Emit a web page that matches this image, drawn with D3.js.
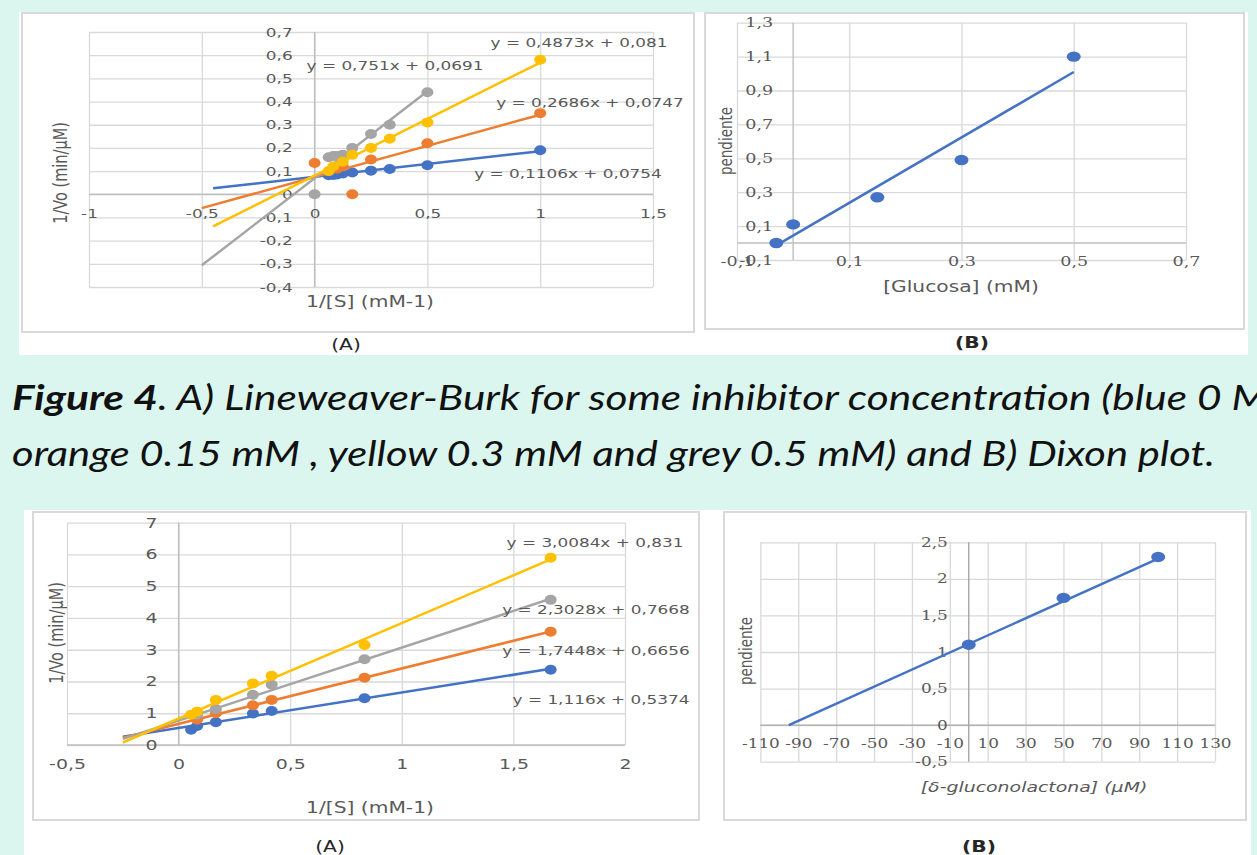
<!DOCTYPE html>
<html>
<head>
<meta charset="utf-8">
<script src="https://cdn.jsdelivr.net/npm/d3@7"></script>
<style>
  body { margin: 0; background: #dbf6ef; }
  svg { display: block; }
</style>
</head>
<body>
<svg id="fig" width="1257" height="855"></svg>
<script>
// ---- data: top (A) Lineweaver-Burk, glucose ----
const topBlueX = [0.0625, 0.083, 0.1, 0.125, 0.167, 0.25, 0.333, 0.5, 1];
const topBlueY = [0.082, 0.083, 0.085, 0.09, 0.094, 0.102, 0.109, 0.125, 0.19];
const topOrangeX = [0, 0.1, 0.125, 0.167, 0.25, 0.5, 1];
const topOrangeY = [0.135, 0.11, 0.12, 0, 0.15, 0.22, 0.35];
const topGreyX = [0, 0.0625, 0.083, 0.1, 0.125, 0.167, 0.25, 0.333, 0.5];
const topGreyY = [0, 0.16, 0.165, 0.165, 0.17, 0.2, 0.26, 0.3, 0.44];
const topYellowX = [0.0625, 0.083, 0.125, 0.167, 0.25, 0.333, 0.5, 1];
const topYellowY = [0.1, 0.12, 0.14, 0.17, 0.2, 0.24, 0.31, 0.58];
// trendlines in order blue, orange, grey, yellow
const topSlope = [0.1106, 0.2686, 0.751, 0.4873];
const topIntercept = [0.0754, 0.0747, 0.0691, 0.081];
const topTrendFrom = [-0.45, -0.5, -0.5, -0.45];
const topTrendTo = [1, 1, 0.5, 1];
const topEquations = ["y = 0,1106x + 0,0754", "y = 0,2686x + 0,0747", "y = 0,751x + 0,0691", "y = 0,4873x + 0,081"];
const topXTicks = [-1, -0.5, 0, 0.5, 1, 1.5];
const topYTicks = [-0.4, -0.3, -0.2, -0.1, 0, 0.1, 0.2, 0.3, 0.4, 0.5, 0.6, 0.7];

// ---- data: top (B) Dixon, glucose ----
const glucosa = [-0.03, 0, 0.15, 0.3, 0.5];
const glucosaPendiente = [0, 0.11, 0.27, 0.49, 1.1];
const glucosaTrend = [1.93, 0.044]; // slope, intercept
const glucosaTrendRange = [-0.023, 0.5];
const glucXTicks = [-0.1, 0.1, 0.3, 0.5, 0.7];
const glucYTicks = [-0.1, 0.1, 0.3, 0.5, 0.7, 0.9, 1.1, 1.3];

// ---- data: bottom (A) Lineweaver-Burk, gluconolactone ----
const botBlueX = [0.056, 0.083, 0.167, 0.333, 0.417, 0.833, 1.667];
const botBlueY = [0.48, 0.6, 0.72, 0.99, 1.07, 1.47, 2.37];
const botOrangeX = [0.083, 0.167, 0.333, 0.417, 0.833, 1.667];
const botOrangeY = [0.8, 1.0, 1.25, 1.42, 2.12, 3.57];
const botGreyX = [0.083, 0.167, 0.333, 0.417, 0.833, 1.667];
const botGreyY = [0.95, 1.13, 1.58, 1.9, 2.7, 4.57];
const botYellowX = [0.056, 0.083, 0.167, 0.333, 0.417, 0.833, 1.667];
const botYellowY = [0.95, 1.05, 1.42, 1.94, 2.18, 3.15, 5.9];
const botSlope = [1.116, 1.7448, 2.3028, 3.0084];
const botIntercept = [0.5374, 0.6656, 0.7668, 0.831];
const botTrendRange = [-0.25, 1.667];
const botEquations = ["y = 1,116x + 0,5374", "y = 1,7448x + 0,6656", "y = 2,3028x + 0,7668", "y = 3,0084x + 0,831"];
const botXTicks = [-0.5, 0, 0.5, 1, 1.5, 2];
const botYTicks = [0, 1, 2, 3, 4, 5, 6, 7];

// ---- data: bottom (B) Dixon, gluconolactone ----
const lactona = [0, 50, 100];
const lactonaPendiente = [1.1, 1.74, 2.3];
const lactonaTrend = [0.01168, 1.11];
const lactonaTrendRange = [-95, 100];
const lactXTicks = [-110, -90, -70, -50, -30, -10, 10, 30, 50, 70, 90, 110, 130];
const lactYTicks = [-0.5, 0, 0.5, 1, 1.5, 2, 2.5];

const captionLine1 = ["Figure 4", ". A) Lineweaver-Burk for some inhibitor concentration (blue 0 M"];
const captionLine2 = "orange 0.15 mM , yellow 0.3 mM and grey 0.5 mM) and B) Dixon plot.";

// ---- setup ----
const colors = ["#4472c4", "#ed7d31", "#a5a5a5", "#ffc000"];
const SX = 1.35; // the picture is stretched sideways, text too
const svg = d3.select("#fig");
const loc = d3.formatLocale({ decimal: ",", thousands: ".", grouping: [3], currency: ["", ""], minus: "-" });
const fmt = loc.format("~g");

function txt(g, x, y, s, o = {}) {
  const t = g.append("text")
    .attr("transform", `translate(${x},${y})` + (o.rot ? ` rotate(-90) scale(1,${SX})` : ` scale(${SX},1)`))
    .attr("text-anchor", o.anchor || "middle")
    .attr("dominant-baseline", "central")
    .style("font-family", o.family || "DejaVu Sans")
    .style("font-size", (o.size || 13) + "px")
    .style("fill", o.color || "#595959")
    .text(s);
  if (o.italic) t.style("font-style", "italic");
  if (o.bold) t.style("font-weight", "bold");
  return t;
}

// panels
svg.append("rect").attr("x", 19).attr("y", 12).attr("width", 1229).attr("height", 343).attr("fill", "#fff");
svg.append("rect").attr("x", 24).attr("y", 510).attr("width", 1227).attr("height", 345).attr("fill", "#fff");
[[22, 13, 672, 319], [705, 13, 539, 316], [33, 512, 666, 308], [724, 512, 522, 308]].forEach(f => {
  svg.append("rect").attr("x", f[0]).attr("y", f[1]).attr("width", f[2]).attr("height", f[3])
    .attr("fill", "none").attr("stroke", "#d9d9d9").attr("stroke-width", 2);
});

function chart(o) {
  const g = svg.append("g");
  const x = d3.scaleLinear().domain(o.xDom).range(o.xRange);
  const y = d3.scaleLinear().domain(o.yDom).range(o.yRange);
  const h = o.yRange[0] - o.yRange[1], w = o.xRange[1] - o.xRange[0];

  // gridlines
  const gx = g.append("g").attr("transform", `translate(0,${o.yRange[0]})`)
    .call(d3.axisBottom(x).tickValues(o.xTicks).tickSize(-h).tickFormat(""));
  const gy = g.append("g").attr("transform", `translate(${o.xRange[0]},0)`)
    .call(d3.axisLeft(y).tickValues(o.yTicks).tickSize(-w).tickFormat(""));
  [gx, gy].forEach(a => {
    a.select(".domain").remove();
    a.selectAll("line").attr("stroke", "#d9d9d9").attr("stroke-width", 1.3);
  });

  // axis lines through zero
  g.append("line").attr("x1", x(0)).attr("x2", x(0)).attr("y1", o.yRange[0]).attr("y2", o.yRange[1])
    .attr("stroke", o.axisColor || "#bfbfbf").attr("stroke-width", 1.4);
  g.append("line").attr("x1", o.xRange[0]).attr("x2", o.xRange[1]).attr("y1", y(0)).attr("y2", y(0))
    .attr("stroke", o.axisColor || "#bfbfbf").attr("stroke-width", 1.4);

  // tick labels next to the axes
  const lx = g.append("g").attr("transform", `translate(0,${y(0)})`)
    .call(d3.axisBottom(x).tickValues(o.xTicks).tickSize(0).tickPadding(o.xPad).tickFormat(fmt));
  const ly = g.append("g").attr("transform", `translate(${x(0)},0)`)
    .call(d3.axisLeft(y).tickValues(o.yTicks).tickSize(0).tickPadding(o.yPad / SX).tickFormat(fmt));
  [lx, ly].forEach(a => {
    a.select(".domain").remove();
    a.selectAll("text")
      .attr("transform", `scale(${SX},1)`)
      .style("font-family", o.tickFont)
      .style("font-size", o.tickSize + "px")
      .style("fill", "#595959");
  });
  return { g, x, y };
}

function points(c, xs, ys, color, rx, ry) {
  c.g.append("g").selectAll("ellipse").data(xs).join("ellipse")
    .attr("cx", d => c.x(d)).attr("cy", (d, i) => c.y(ys[i]))
    .attr("rx", rx).attr("ry", ry).attr("fill", color);
}

function trend(c, a, b, from, to, color) {
  const line = d3.line().x(d => c.x(d)).y(d => c.y(a * d + b));
  c.g.append("path").datum([from, to]).attr("d", line)
    .attr("fill", "none").attr("stroke", color).attr("stroke-width", 2.5);
}

// ---- top (A) ----
const cTL = chart({
  xDom: [-1, 1.5], xRange: [89, 653], yDom: [-0.4, 0.7], yRange: [287, 32],
  xTicks: topXTicks, yTicks: topYTicks, xPad: 15, yPad: 22, tickFont: "DejaVu Sans", tickSize: 12.5
});
const topXs = [topBlueX, topOrangeX, topGreyX, topYellowX];
const topYs = [topBlueY, topOrangeY, topGreyY, topYellowY];
topXs.forEach((xs, i) => {
  points(cTL, xs, topYs[i], colors[i], 6, 5);
  trend(cTL, topSlope[i], topIntercept[i], topTrendFrom[i], topTrendTo[i], colors[i]);
});
const topEqPos = [[568, 173], [590, 102], [395, 65], [579, 42]];
topEquations.forEach((s, i) => txt(cTL.g, topEqPos[i][0], topEqPos[i][1], s, { size: 12.5 }));
txt(cTL.g, 370, 302, "1/[S] (mM-1)", { size: 15 });
txt(cTL.g, 60, 173, "1/Vo (min/µM)", { size: 14.5, rot: true });
txt(svg, 346, 345, "(A)", { size: 15, color: "#262626" });

// ---- top (B) ----
const cTR = chart({
  xDom: [-0.1, 0.7], xRange: [737, 1186], yDom: [-0.1, 1.3], yRange: [260, 22.7],
  xTicks: glucXTicks, yTicks: glucYTicks, xPad: 14, yPad: 20, tickFont: "DejaVu Serif", tickSize: 13
});
points(cTR, glucosa, glucosaPendiente, colors[0], 7, 5.2);
trend(cTR, glucosaTrend[0], glucosaTrend[1], glucosaTrendRange[0], glucosaTrendRange[1], colors[0]);
txt(cTR.g, 726, 141, "pendiente", { size: 13.5, rot: true });
txt(cTR.g, 961, 287, "[Glucosa] (mM)", { size: 15 });
txt(svg, 972, 343, "(B)", { size: 15, color: "#262626", bold: true });

// ---- bottom (A) ----
const cBL = chart({
  xDom: [-0.5, 2], xRange: [67, 625], yDom: [0, 7], yRange: [745, 522.7],
  xTicks: botXTicks, yTicks: botYTicks, xPad: 14, yPad: 21, tickFont: "DejaVu Sans", tickSize: 14
});
const botXs = [botBlueX, botOrangeX, botGreyX, botYellowX];
const botYs = [botBlueY, botOrangeY, botGreyY, botYellowY];
botXs.forEach((xs, i) => {
  points(cBL, xs, botYs[i], colors[i], 6, 5);
  trend(cBL, botSlope[i], botIntercept[i], botTrendRange[0], botTrendRange[1], colors[i]);
});
const botEqPos = [[601, 699], [596, 650], [596, 609], [595, 542]];
botEquations.forEach((s, i) => txt(cBL.g, botEqPos[i][0], botEqPos[i][1], s, { size: 12.5 }));
txt(cBL.g, 370, 808, "1/[S] (mM-1)", { size: 15 });
txt(cBL.g, 56, 633, "1/Vo (min/µM)", { size: 14.5, rot: true });
txt(svg, 330, 847, "(A)", { size: 15, color: "#262626" });

// ---- bottom (B) ----
const cBR = chart({
  xDom: [-110, 130], xRange: [760.4, 1215], yDom: [-0.5, 2.5], yRange: [761.7, 542.3],
  xTicks: lactXTicks, yTicks: lactYTicks, xPad: 14, yPad: 21, tickFont: "DejaVu Serif", tickSize: 12.5,
  axisColor: "#a6a6a6"
});
points(cBR, lactona, lactonaPendiente, colors[0], 7, 5.2);
trend(cBR, lactonaTrend[0], lactonaTrend[1], lactonaTrendRange[0], lactonaTrendRange[1], colors[0]);
txt(cBR.g, 746, 651, "pendiente", { size: 13.5, rot: true });
txt(cBR.g, 1034, 787, "[δ-gluconolactona] (µM)", { size: 14, italic: true });
txt(svg, 979, 847, "(B)", { size: 15, color: "#262626", bold: true });

// ---- caption ----
const cap1 = svg.append("text").attr("x", 12).attr("y", 410)
  .attr("textLength", 1256).attr("lengthAdjust", "spacingAndGlyphs")
  .style("font-family", "Lato").style("font-style", "italic").style("font-size", "35px").style("fill", "#111");
cap1.append("tspan").style("font-weight", "bold").text(captionLine1[0]);
cap1.append("tspan").text(captionLine1[1]);
svg.append("text").attr("x", 12).attr("y", 466)
  .attr("textLength", 1203).attr("lengthAdjust", "spacingAndGlyphs")
  .style("font-family", "Lato").style("font-style", "italic").style("font-size", "35px").style("fill", "#111")
  .text(captionLine2);
</script>
</body>
</html>
